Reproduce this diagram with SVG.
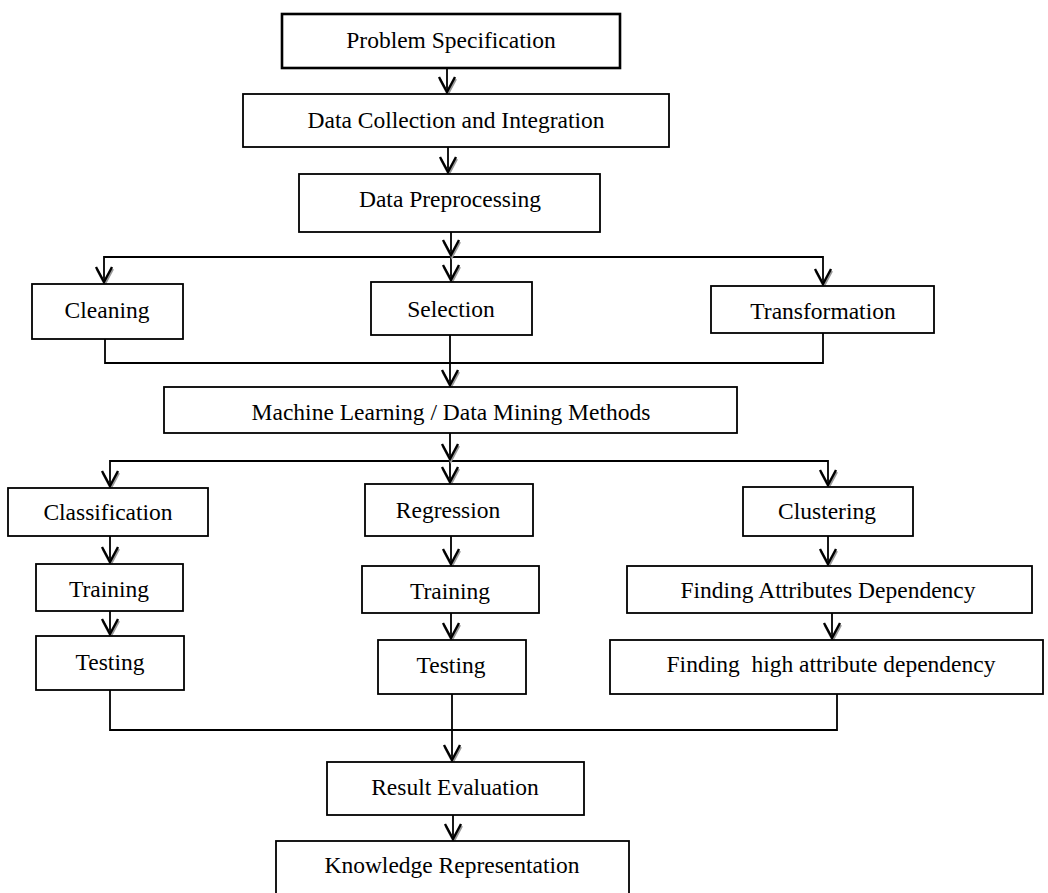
<svg xmlns="http://www.w3.org/2000/svg" xmlns:xlink="http://www.w3.org/1999/xlink" width="1048" height="893" viewBox="0 0 1048 893">
<style>
.box{fill:#fff;stroke:#000;stroke-width:1.8}
.thick{stroke-width:2.6}
.lbl{font-family:"Liberation Serif","Times New Roman",serif;font-size:23.5px;fill:#000;text-anchor:middle;white-space:pre}
.ln{fill:none;stroke:#000;stroke-width:1.8}
</style>
<defs>
<g id="ah">
<path d="M-8,-15 L0,0 L8,-15" fill="none" stroke="#9a9a9a" stroke-width="2.6" transform="translate(0.8,2)"/>
<path d="M-8,-15 L0,0 L8,-15" fill="none" stroke="#000" stroke-width="2.4"/>
</g>
</defs>
<rect width="1048" height="893" fill="#fff"/>
<g id="connectors">
<path class="ln" d="M447,68V92"/><use xlink:href="#ah" x="447" y="92"/>
<path class="ln" d="M448,147V172"/><use xlink:href="#ah" x="448" y="172"/>
<path class="ln" d="M451,232V257 M104,282V257H823V284 M451,257V280"/>
<use xlink:href="#ah" x="451" y="255"/>
<use xlink:href="#ah" x="104" y="282"/>
<use xlink:href="#ah" x="451" y="280"/>
<use xlink:href="#ah" x="823" y="284"/>
<path class="ln" d="M105,339V363H823V333 M450,335V385"/>
<use xlink:href="#ah" x="450" y="385"/>
<path class="ln" d="M450,433V461 M110,486V461H828V485 M450,461V482"/>
<use xlink:href="#ah" x="450" y="459"/>
<use xlink:href="#ah" x="110" y="486"/>
<use xlink:href="#ah" x="450" y="482"/>
<use xlink:href="#ah" x="828" y="485"/>
<path class="ln" d="M110,536V562 M451,536V564 M828,536V564"/>
<use xlink:href="#ah" x="110" y="562"/>
<use xlink:href="#ah" x="451" y="564"/>
<use xlink:href="#ah" x="828" y="564"/>
<path class="ln" d="M110,611V634 M451,613V638 M832,613V638"/>
<use xlink:href="#ah" x="110" y="634"/>
<use xlink:href="#ah" x="451" y="638"/>
<use xlink:href="#ah" x="832" y="638"/>
<path class="ln" d="M110,690V730H837V694 M452,694V760"/>
<use xlink:href="#ah" x="452" y="760"/>
<path class="ln" d="M453,815V839"/><use xlink:href="#ah" x="453" y="839"/>
</g>
<g id="n-problem"><rect class="box thick" x="282" y="14" width="338" height="54"/><text class="lbl" x="451" y="48">Problem Specification</text></g>
<g id="n-collection"><rect class="box" x="243" y="94" width="426" height="53"/><text class="lbl" x="456" y="128">Data Collection and Integration</text></g>
<g id="n-preprocessing"><rect class="box" x="299" y="174" width="301" height="58"/><text class="lbl" x="450" y="207">Data Preprocessing</text></g>
<g id="n-cleaning"><rect class="box" x="32" y="284" width="151" height="55"/><text class="lbl" x="107" y="318">Cleaning</text></g>
<g id="n-selection"><rect class="box" x="371" y="282" width="161" height="53"/><text class="lbl" x="451" y="317">Selection</text></g>
<g id="n-transformation"><rect class="box" x="711" y="286" width="223" height="47"/><text class="lbl" x="823" y="319">Transformation</text></g>
<g id="n-ml"><rect class="box" x="164" y="387" width="573" height="46"/><text class="lbl" x="451" y="420">Machine Learning / Data Mining Methods</text></g>
<g id="n-classification"><rect class="box" x="8" y="488" width="200" height="48"/><text class="lbl" x="108" y="520">Classification</text></g>
<g id="n-regression"><rect class="box" x="365" y="484" width="168" height="52"/><text class="lbl" x="448" y="518">Regression</text></g>
<g id="n-clustering"><rect class="box" x="743" y="487" width="170" height="49"/><text class="lbl" x="827" y="519">Clustering</text></g>
<g id="n-training1"><rect class="box" x="36" y="564" width="147" height="47"/><text class="lbl" x="109" y="597">Training</text></g>
<g id="n-training2"><rect class="box" x="362" y="566" width="177" height="47"/><text class="lbl" x="450" y="599">Training</text></g>
<g id="n-attrdep"><rect class="box" x="627" y="566" width="405" height="47"/><text class="lbl" x="828" y="598">Finding Attributes Dependency</text></g>
<g id="n-testing1"><rect class="box" x="36" y="636" width="148" height="54"/><text class="lbl" x="110" y="670">Testing</text></g>
<g id="n-testing2"><rect class="box" x="378" y="640" width="148" height="54"/><text class="lbl" x="451" y="673">Testing</text></g>
<g id="n-highdep"><rect class="box" x="610" y="640" width="433" height="54"/><text class="lbl" x="831" y="672" xml:space="preserve">Finding  high attribute dependency</text></g>
<g id="n-result"><rect class="box" x="327" y="762" width="257" height="53"/><text class="lbl" x="455" y="795">Result Evaluation</text></g>
<g id="n-knowledge"><rect class="box" x="276" y="841" width="353" height="62"/><text class="lbl" x="452" y="873">Knowledge Representation</text></g>
</svg>
